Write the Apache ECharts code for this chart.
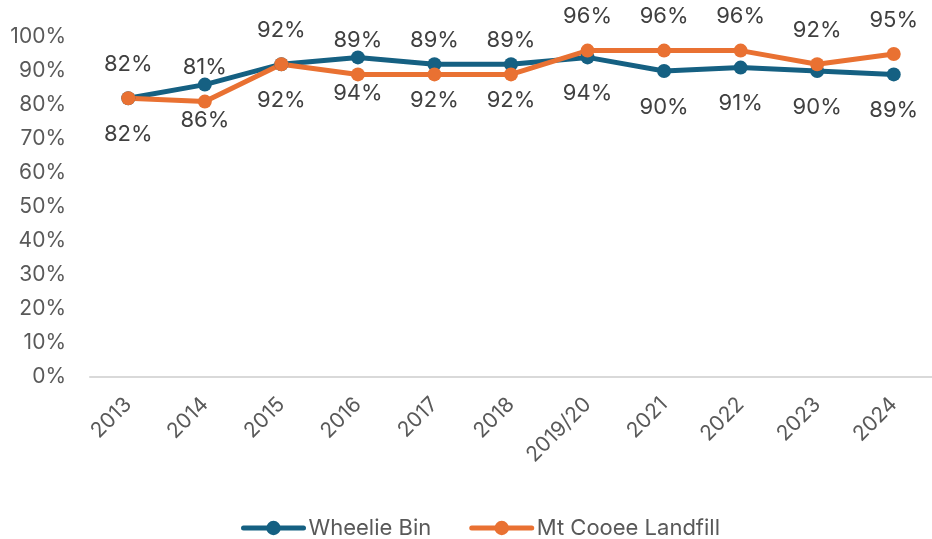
<!DOCTYPE html>
<html>
<head>
<meta charset="utf-8">
<script src="https://cdn.jsdelivr.net/npm/echarts@6/dist/echarts.min.js"></script>
<style>
  html, body { margin: 0; padding: 0; background: #fff; }
  #chart { width: 932px; height: 539px; }
</style>
</head>
<body>
<div id="chart"></div>
<script>
// Satisfaction by year, two collection services (percent)
const years = ['2013', '2014', '2015', '2016', '2017', '2018', '2019/20', '2021', '2022', '2023', '2024'];
const wheelieBin = [82, 86, 92, 94, 92, 92, 94, 90, 91, 90, 89];
const mtCooeeLandfill = [82, 81, 92, 89, 89, 89, 96, 96, 96, 92, 95];
const seriesNames = ['Wheelie Bin', 'Mt Cooee Landfill'];

const FONT = 'Inter, "Liberation Sans", sans-serif';
const BLUE = '#156082';
const ORANGE = '#E97132';

const chart = echarts.init(document.getElementById('chart'), null, { renderer: 'canvas' });

function lineSeries(name, data, color, labelPos, dist) {
  return {
    name: name,
    type: 'line',
    data: data,
    symbol: 'circle',
    symbolSize: 14,
    lineStyle: { width: 5, color: color },
    itemStyle: { color: color },
    label: {
      show: true,
      position: labelPos,
      distance: dist,
      formatter: p => p.value + '%',
      fontFamily: FONT,
      fontSize: 22,
      color: '#404040'
    },
    emphasis: { disabled: true },
    animation: false
  };
}

chart.setOption({
  animation: false,
  grid: { left: 90, width: 845, top: 37, bottom: 162, containLabel: false },
  xAxis: {
    type: 'category',
    data: years,
    boundaryGap: true,
    axisLine: { show: true, lineStyle: { color: '#d9d9d9', width: 2 } },
    axisTick: { show: false },
    axisLabel: {
      rotate: 45,
      margin: 24,
      fontFamily: FONT,
      fontSize: 21,
      color: '#595959',
      interval: 0
    },
    splitLine: { show: false }
  },
  yAxis: {
    type: 'value',
    min: 0,
    max: 100,
    interval: 10,
    axisLine: { show: false },
    axisTick: { show: false },
    splitLine: { show: false },
    axisLabel: {
      formatter: v => v + '%',
      margin: 24,
      fontFamily: FONT,
      fontSize: 21,
      color: '#595959'
    }
  },
  legend: {
    bottom: -5,
    left: 236,
    itemWidth: 60,
    itemHeight: 18,
    itemGap: 38,
    lineStyle: { width: 5, cap: 'round' },
    textStyle: { fontFamily: FONT, fontSize: 22, color: '#595959' },
    data: seriesNames
  },
  series: [
    lineSeries(seriesNames[0], wheelieBin, BLUE, 'bottom', 18),
    lineSeries(seriesNames[1], mtCooeeLandfill, ORANGE, 'top', 16)
  ]
});
</script>
</body>
</html>
